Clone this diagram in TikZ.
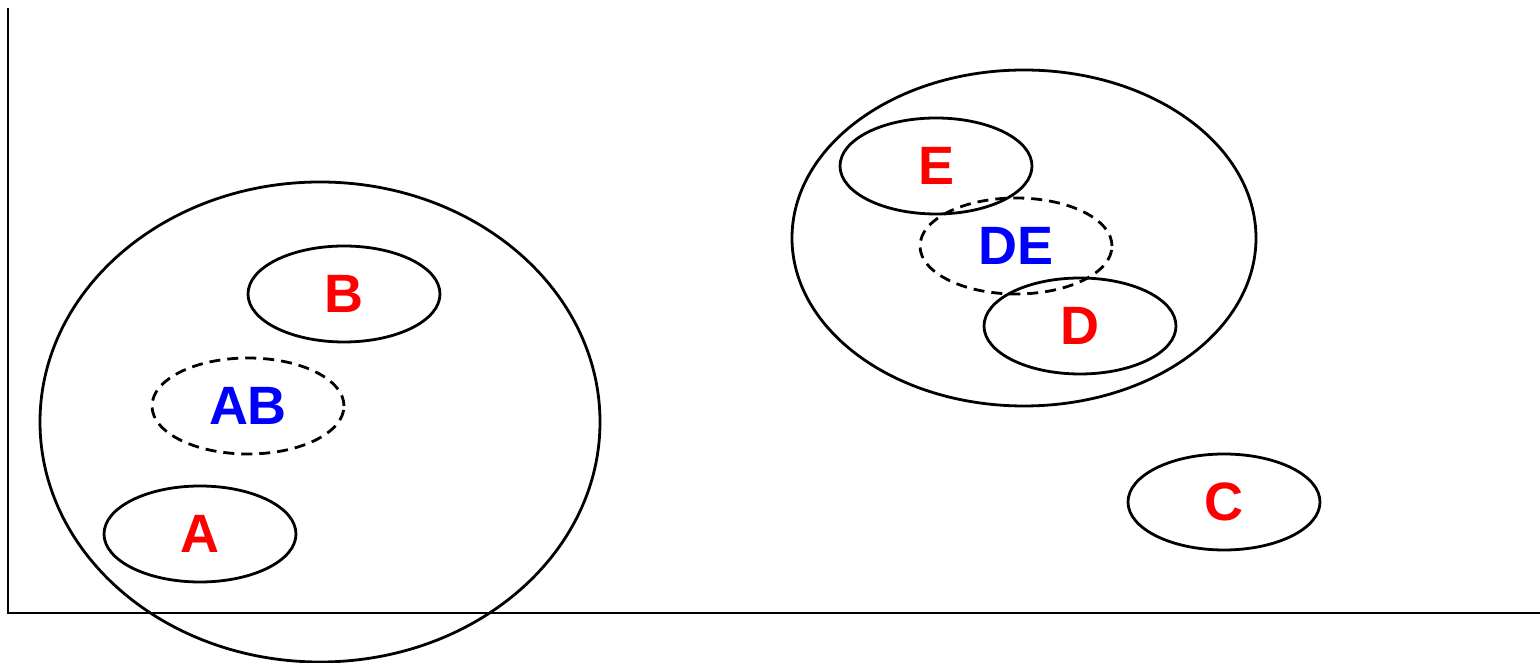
\documentclass[tikz,border=0pt]{standalone}
\usepackage{fontspec}
\setmainfont{Liberation Sans}
\usetikzlibrary{shapes.geometric}
\tikzset{
  set/.style={ellipse, draw=black, line width=2.8pt, inner sep=0pt, minimum width=192pt, minimum height=96pt, text=red, font=\fontsize{54}{54}\selectfont\bfseries},
  pair/.style={set, dash pattern=on 11pt off 7pt, text=blue},
  big/.style={ellipse, draw=black, line width=2.8pt, inner sep=0pt},
  axis/.style={line width=2.8pt, line join=miter}
}
\begin{document}
\begin{tikzpicture}[x=1pt,y=1pt]
\useasboundingbox (0,0) rectangle (1540,663);
\coordinate (top) at (8,655);
\coordinate (origin) at (8,50);
\coordinate (right) at (1540,50);
\draw[axis] (top) -- (origin) -- (right);
% left group
\node[big, minimum width=560pt, minimum height=480pt] (L) at (320,241) {};
\node[set] (B) at (344,369) {B};
\node[pair] (AB) at (248,257) {AB};
\node[set] (A) at (200,129) {A};
% right group
\node[big, minimum width=464pt, minimum height=336pt] (R) at (1024,425) {};
\node[set] (E) at (936,497) {E};
\node[pair] (DE) at (1016,417) {DE};
\node[set] (D) at (1080,337) {D};
% C
\node[set] (C) at (1224,161) {C};
\end{tikzpicture}
\end{document}
